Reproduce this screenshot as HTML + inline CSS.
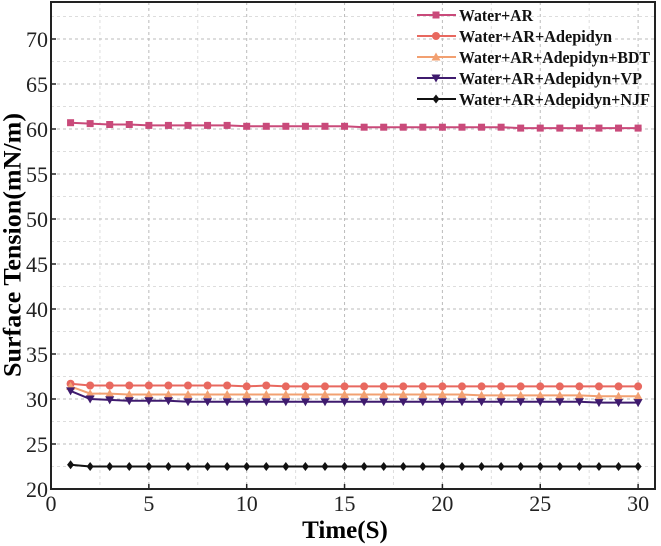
<!DOCTYPE html>
<html><head><meta charset="utf-8"><style>
html,body{margin:0;padding:0;background:#fff;}
svg{display:block;font-family:"Liberation Serif",serif;}
</style></head><body>
<svg id="chart" width="661" height="546" viewBox="0 0 661 546" xmlns="http://www.w3.org/2000/svg">
<g id="grid"></g>
<g id="series"></g>
<rect x="51" y="2" width="604" height="487" fill="none" stroke="#222" stroke-width="2"/>
<g id="ticks"></g>
<text x="13" y="245" transform="rotate(-90 13 245)" text-anchor="middle" dominant-baseline="central" font-weight="bold" font-size="25" textLength="264" lengthAdjust="spacingAndGlyphs">Surface Tension(mN/m)</text>
<text x="345" y="538" text-anchor="middle" font-weight="bold" font-size="25">Time(S)</text>
<g id="legend"></g>
</svg>
<script>
const times = [1,2,3,4,5,6,7,8,9,10,11,12,13,14,15,16,17,18,19,20,21,22,23,24,25,26,27,28,29,30];
const waterAR = [60.7,60.6,60.5,60.5,60.4,60.4,60.4,60.4,60.4,60.3,60.3,60.3,60.3,60.3,60.3,60.2,60.2,60.2,60.2,60.2,60.2,60.2,60.2,60.1,60.1,60.1,60.1,60.1,60.1,60.1];
const adepidyn = [31.7,31.5,31.5,31.5,31.5,31.5,31.5,31.5,31.5,31.4,31.5,31.4,31.4,31.4,31.4,31.4,31.4,31.4,31.4,31.4,31.4,31.4,31.4,31.4,31.4,31.4,31.4,31.4,31.4,31.4];
const bdt = [31.4,30.6,30.6,30.5,30.5,30.5,30.5,30.5,30.5,30.5,30.5,30.5,30.5,30.5,30.5,30.5,30.5,30.5,30.5,30.5,30.5,30.4,30.4,30.4,30.4,30.4,30.4,30.3,30.3,30.3];
const vp = [30.9,30.0,29.9,29.8,29.8,29.8,29.7,29.7,29.7,29.7,29.7,29.7,29.7,29.7,29.7,29.7,29.7,29.7,29.7,29.7,29.7,29.7,29.7,29.7,29.7,29.7,29.7,29.6,29.6,29.6];
const njf = [22.7,22.5,22.5,22.5,22.5,22.5,22.5,22.5,22.5,22.5,22.5,22.5,22.5,22.5,22.5,22.5,22.5,22.5,22.5,22.5,22.5,22.5,22.5,22.5,22.5,22.5,22.5,22.5,22.5,22.5];
const seriesNames = ["Water+AR","Water+AR+Adepidyn","Water+AR+Adepidyn+BDT","Water+AR+Adepidyn+VP","Water+AR+Adepidyn+NJF"];
const xTicks = [0,5,10,15,20,25,30];
const yTicks = [20,25,30,35,40,45,50,55,60,65,70];

const NS="http://www.w3.org/2000/svg";
const X0=51, XS=19.57, Y0=489, YS=9.0;
function sx(v){return X0+v*XS;}
function sy(v){return Y0-(v-20)*YS;}
function mk(tag,attrs,parent){const e=document.createElementNS(NS,tag);for(const k in attrs)e.setAttribute(k,attrs[k]);parent.appendChild(e);return e;}

const grid=document.getElementById('grid');
for(let v=2.5; v<31; v+=2.5){
  const major = v%5===0;
  const l=mk('line',{x1:sx(v),x2:sx(v),y1:2,y2:489,stroke:major?'#bbb':'#ddd','stroke-width':1,'stroke-dasharray':'3,3'},grid);
  
  
}
for(let v=22.5; v<75; v+=2.5){
  const major = v%5===0;
  const l=mk('line',{x1:51,x2:655,y1:sy(v),y2:sy(v),stroke:major?'#bbb':'#ddd','stroke-width':1,'stroke-dasharray':'3,3'},grid);
  
  
}

const ticks=document.getElementById('ticks');
xTicks.forEach(t=>{
  const tx=mk('text',{x:sx(t),y:511,'text-anchor':'middle','font-size':22,fill:'#222'},ticks);
  tx.textContent=t;
  
  
  const tl=mk('line',{x1:sx(t),x2:sx(t),y1:489,y2:484,stroke:'#222','stroke-width':1.5},ticks);
  
  
});
yTicks.forEach(t=>{
  const tx=mk('text',{x:48,y:sy(t)+8,'text-anchor':'end','font-size':22,fill:'#222'},ticks);
  tx.textContent=t;
  
  
  const tl=mk('line',{x1:51,x2:56,y1:sy(t),y2:sy(t),stroke:'#222','stroke-width':1.5},ticks);
  
  
});

const colors=['#c94a7a','#e8685f','#f2a071','#3f1b6e','#111'];
const markers=['square','circle','triangle','tridown','diamond'];
const legendWidths=[74,153,191,183,191];
const data=[waterAR,adepidyn,bdt,vp,njf];
function marker(type,x,y,c,p){
  let e;
  if(type==='square') e=mk('rect',{x:x-3.5,y:y-3.5,width:7,height:7,fill:c},p);
  else if(type==='circle') e=mk('circle',{cx:x,cy:y,r:4,fill:c},p);
  else if(type==='triangle') e=mk('polygon',{points:`${x},${y-4.5} ${x+4.5},${y+3.5} ${x-4.5},${y+3.5}`,fill:c},p);
  else if(type==='tridown') e=mk('polygon',{points:`${x},${y+4.5} ${x+4.5},${y-3.5} ${x-4.5},${y-3.5}`,fill:c},p);
  else e=mk('polygon',{points:`${x},${y-4.5} ${x+3.5},${y} ${x},${y+4.5} ${x-3.5},${y}`,fill:c},p);
  return e;
}
const sg=document.getElementById('series');
data.forEach((vals,i)=>{
  const g=mk('g',{},sg);
  
  
  const pts=vals.map((v,j)=>sx(times[j])+','+sy(v)).join(' ');
  const pl=mk('polyline',{points:pts,fill:'none',stroke:colors[i],'stroke-width':2},g);
  
  
  vals.forEach((v,j)=>{
    const m=marker(markers[i],sx(times[j]),sy(v),colors[i],g);
    
    
  });
});

const lg=document.getElementById('legend');
seriesNames.forEach((n,i)=>{
  const y=15+i*21;
  const e=mk('g',{},lg);
  
  
  mk('line',{x1:417,x2:456,y1:y,y2:y,stroke:colors[i],'stroke-width':2},e);
  marker(markers[i],436,y,colors[i],e);
  const t=mk('text',{x:459,y:y+6,'font-size':17,'font-weight':'bold',fill:'#111',textLength:legendWidths[i],lengthAdjust:'spacingAndGlyphs'},e);
  t.textContent=n;
});
</script>
</body></html>
